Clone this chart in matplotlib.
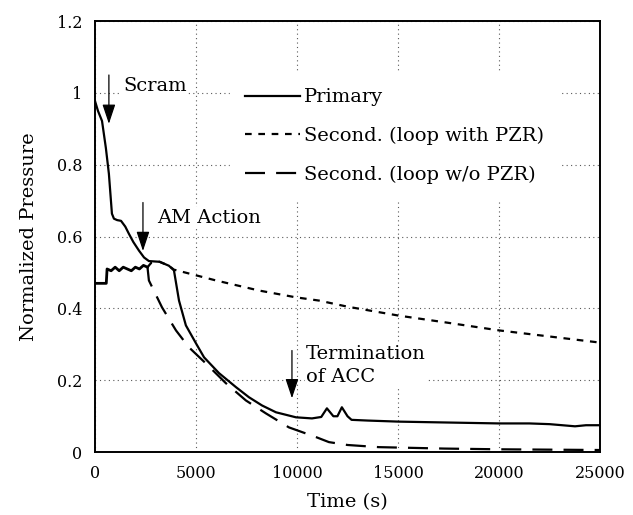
import matplotlib
matplotlib.use("Agg")
import matplotlib.pyplot as plt

plt.rcParams['font.family'] = ['DejaVu Serif']

# primary loop pressure
t_prim = [0, 150, 350, 540, 690, 840, 940, 1100, 1290, 1500, 1680, 1900, 2180, 2430,
          2670, 3200, 3660, 3910, 4160, 4500, 5000, 5400, 6140, 6980, 7620, 8270,
          8960, 9950, 10740, 11200, 11480, 11800, 12000, 12220, 12500, 12700, 13500,
          15050, 17000, 20000, 21500, 22500, 23760, 24300, 25000]
p_prim = [0.978, 0.95, 0.922, 0.847, 0.775, 0.664, 0.65, 0.646, 0.644, 0.628, 0.608,
          0.585, 0.561, 0.542, 0.532, 0.53, 0.519, 0.506, 0.422, 0.353, 0.303, 0.264,
          0.22, 0.181, 0.153, 0.13, 0.111, 0.097, 0.094, 0.098, 0.122, 0.1, 0.1,
          0.125, 0.1, 0.09, 0.088, 0.085, 0.083, 0.08, 0.08, 0.078, 0.072, 0.075,
          0.075]

# both secondary loops before AM action (identical)
t_sec0 = [0, 500, 560, 600, 800, 1000, 1200, 1400, 1600, 1800, 2000, 2200, 2400, 2600]
p_sec0 = [0.47, 0.47, 0.47, 0.51, 0.505, 0.515, 0.505, 0.515, 0.51, 0.505, 0.515,
          0.51, 0.52, 0.515]

# secondary loop with pressurizer
t_pzr = [2600, 2800, 3200, 3660, 3910, 4060, 5990, 8120, 9950, 11090, 12500, 15050,
         17500, 20000, 22500, 25000]
p_pzr = [0.515, 0.528, 0.53, 0.519, 0.508, 0.506, 0.478, 0.45, 0.431, 0.422, 0.405,
         0.38, 0.36, 0.339, 0.322, 0.305]

# secondary loop without pressurizer
t_nopzr = [2600, 2670, 3320, 4010, 4650, 5490, 6480, 7470, 8460, 9600, 10940, 11580,
           12500, 14050, 17300, 20000, 22500, 25000]
p_nopzr = [0.515, 0.478, 0.403, 0.339, 0.292, 0.247, 0.192, 0.144, 0.108, 0.069,
           0.042, 0.028, 0.02, 0.014, 0.01, 0.008, 0.007, 0.006]

x_ticks = [0, 5000, 10000, 15000, 20000, 25000]
y_ticks = [0, 0.2, 0.4, 0.6, 0.8, 1.0, 1.2]
y_tick_labels = ['0', '0.2', '0.4', '0.6', '0.8', '1', '1.2']

fig = plt.figure(figsize=(6.33, 5.15), dpi=100)
ax = fig.add_axes([0.150, 0.122, 0.798, 0.837])

ax.plot(t_prim, p_prim, color='k', lw=1.6, label='Primary', zorder=3)
ax.plot(t_pzr, p_pzr, color='k', lw=1.6, dashes=(3, 3), label='Second. (loop with PZR)', zorder=3)
ax.plot(t_nopzr, p_nopzr, color='k', lw=1.6, dashes=(9, 5), label='Second. (loop w/o PZR)', zorder=3)
ax.plot(t_sec0, p_sec0, color='k', lw=2.0, zorder=3)

ax.set_xlim(0, 25000)
ax.set_ylim(0, 1.2)
ax.set_xticks(x_ticks)
ax.set_yticks(y_ticks)
ax.set_yticklabels(y_tick_labels)
ax.tick_params(length=0, labelsize=11.5, pad=9)
ax.grid(True, color='0.35', lw=0.8, ls=(0, (1, 3)))
for s in ax.spines.values():
    s.set_linewidth(1.4)

ax.set_xlabel('Time (s)', fontsize=14, labelpad=8)
ax.set_ylabel('Normalized Pressure', fontsize=14, labelpad=14)

arrow = dict(arrowstyle='-|>,head_length=0.6,head_width=0.2', color='k', lw=0.9,
             mutation_scale=20, shrinkA=0, shrinkB=0)
ax.annotate('', xy=(690, 0.914), xytext=(690, 1.05), arrowprops=arrow)
ax.text(1400, 1.019, 'Scram', fontsize=14, va='center', ha='left',
        bbox=dict(fc='white', ec='none', pad=1), zorder=4)
ax.annotate('', xy=(2376, 0.56), xytext=(2376, 0.695), arrowprops=arrow)
ax.text(3070, 0.653, 'AM Action', fontsize=14, va='center', ha='left',
        bbox=dict(fc='white', ec='none', pad=1), zorder=4)
ax.annotate('', xy=(9750, 0.15), xytext=(9750, 0.283), arrowprops=arrow)
ax.text(10440, 0.242, 'Termination\nof ACC', fontsize=14, va='center', ha='left',
        linespacing=1.35, bbox=dict(fc='white', ec='none', pad=1), zorder=4)

leg = ax.legend(loc='upper left', bbox_to_anchor=(0.267, 0.88), fontsize=14,
                frameon=True, fancybox=False, framealpha=1, edgecolor='white',
                handlelength=2.8, handletextpad=0.2, labelspacing=1.05,
                borderpad=0.8, borderaxespad=0)
leg.set_zorder(5)

fig.savefig('out.png', dpi=100)
